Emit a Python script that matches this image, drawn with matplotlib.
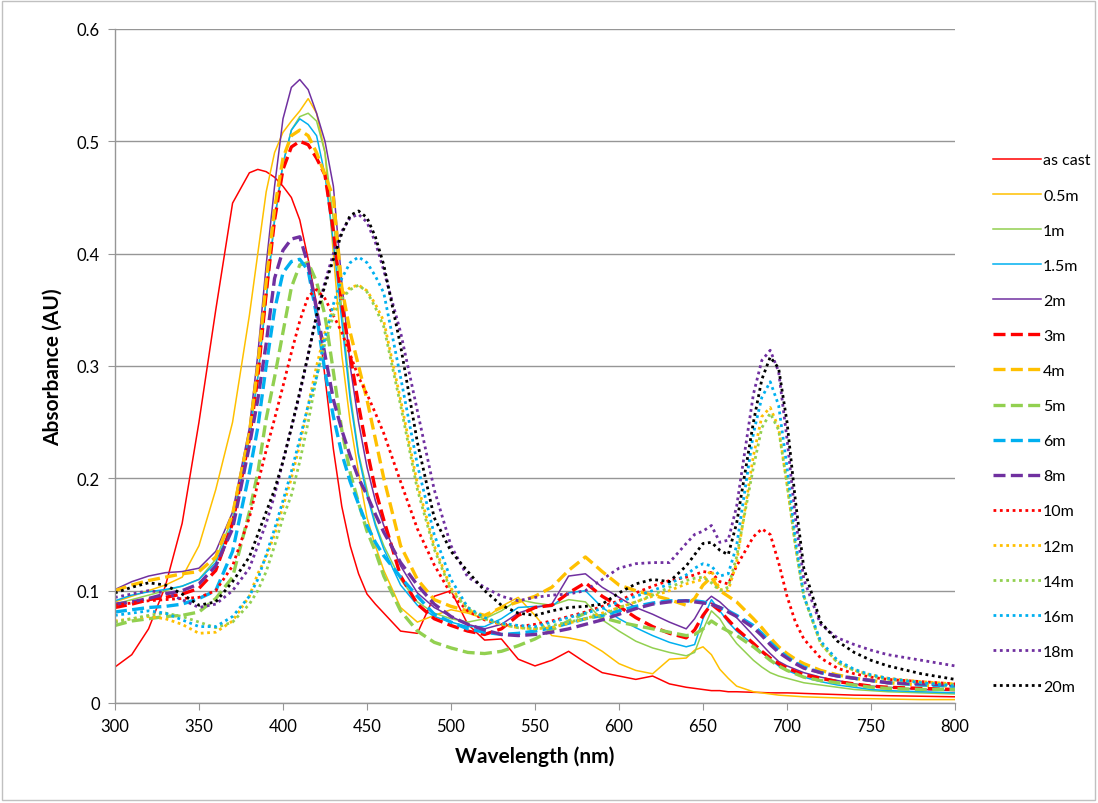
import numpy as np
import matplotlib
matplotlib.use("Agg")
import matplotlib.pyplot as plt
from matplotlib.patches import Rectangle

plt.rcParams['font.family'] = ['Lato', 'DejaVu Sans']

# wavelength grid (nm), finer around the Soret and Q-band peaks
wavelength = [300, 310, 320, 330, 340, 350, 360, 370, 380,
              385, 390, 395, 400, 405, 410, 415, 420, 425, 430, 435, 440, 445, 450, 455, 460,
              470, 480, 490, 500, 510, 520, 530, 540, 550, 560, 570, 580, 590, 600, 610, 620, 630, 640,
              645, 650, 655, 660, 665, 670,
              680, 685, 690, 695, 700, 705, 710,
              720, 730, 740, 750, 760, 780, 800]

as_cast = [0.032, 0.043, 0.066, 0.104, 0.16, 0.25, 0.35, 0.445, 0.472,
           0.475, 0.473, 0.468, 0.46, 0.45, 0.43, 0.395, 0.355, 0.29, 0.226, 0.175, 0.14, 0.115, 0.097, 0.088, 0.08,
           0.064, 0.062, 0.095, 0.10, 0.07, 0.056, 0.057, 0.039, 0.033, 0.038, 0.046, 0.036, 0.027, 0.024, 0.021, 0.024, 0.017, 0.014,
           0.013, 0.012, 0.011, 0.011, 0.010, 0.010,
           0.0095, 0.0093, 0.009, 0.009, 0.009, 0.0088, 0.0085,
           0.008, 0.0075, 0.007, 0.0068, 0.0065, 0.006, 0.0055]
m0_5 = [0.09, 0.095, 0.10, 0.105, 0.112, 0.14, 0.19, 0.25, 0.345,
        0.40, 0.455, 0.49, 0.508, 0.518, 0.527, 0.538, 0.525, 0.49, 0.40, 0.31, 0.25, 0.205, 0.165, 0.14, 0.118,
        0.085, 0.072, 0.078, 0.083, 0.08, 0.075, 0.086, 0.094, 0.078, 0.06, 0.058, 0.055, 0.046, 0.035, 0.029, 0.026, 0.039, 0.040,
        0.047, 0.050, 0.043, 0.03, 0.022, 0.015,
        0.01, 0.009, 0.008, 0.007, 0.0065, 0.006, 0.0055,
        0.005, 0.0045, 0.004, 0.0038, 0.0035, 0.003, 0.003]
m1 = [0.088, 0.092, 0.096, 0.10, 0.104, 0.11, 0.128, 0.165, 0.235,
      0.29, 0.36, 0.43, 0.48, 0.51, 0.522, 0.525, 0.518, 0.49, 0.43, 0.35, 0.275, 0.222, 0.19, 0.16, 0.14,
      0.11, 0.09, 0.08, 0.075, 0.072, 0.075, 0.082, 0.092, 0.089, 0.087, 0.092, 0.09, 0.074, 0.064, 0.055, 0.049, 0.045, 0.042,
      0.045, 0.065, 0.082, 0.075, 0.063, 0.053,
      0.038, 0.032, 0.027, 0.024, 0.022, 0.02, 0.018,
      0.016, 0.014, 0.012, 0.011, 0.01, 0.009, 0.008]
m1_5 = [0.091, 0.096, 0.099, 0.101, 0.104, 0.11, 0.125, 0.16, 0.24,
        0.29, 0.36, 0.43, 0.48, 0.51, 0.52, 0.515, 0.505, 0.47, 0.41, 0.34, 0.27, 0.22, 0.185, 0.158, 0.137,
        0.105, 0.087, 0.077, 0.072, 0.068, 0.068, 0.075, 0.085, 0.086, 0.086, 0.098, 0.10, 0.085, 0.075, 0.067, 0.06, 0.054, 0.05,
        0.052, 0.075, 0.092, 0.082, 0.072, 0.064,
        0.052, 0.045, 0.039, 0.033, 0.029, 0.026, 0.023,
        0.019, 0.016, 0.014, 0.012, 0.011, 0.01, 0.009]
m2 = [0.101, 0.108, 0.113, 0.116, 0.117, 0.12, 0.135, 0.17, 0.245,
      0.31, 0.39, 0.46, 0.52, 0.548, 0.555, 0.546, 0.525, 0.50, 0.46, 0.375, 0.30, 0.25, 0.21, 0.18, 0.158,
      0.122, 0.098, 0.085, 0.077, 0.07, 0.066, 0.07, 0.08, 0.085, 0.088, 0.113, 0.115, 0.103, 0.094, 0.085, 0.079, 0.072, 0.066,
      0.075, 0.088, 0.095, 0.09, 0.083, 0.076,
      0.06, 0.052, 0.044, 0.037, 0.033, 0.03, 0.027,
      0.023, 0.02, 0.017, 0.015, 0.014, 0.012, 0.011]
m3 = [0.085, 0.088, 0.092, 0.094, 0.097, 0.102, 0.118, 0.16, 0.235,
      0.29, 0.365, 0.43, 0.475, 0.495, 0.50, 0.497, 0.485, 0.47, 0.42, 0.355, 0.31, 0.265, 0.225, 0.19, 0.163,
      0.113, 0.088, 0.075, 0.069, 0.064, 0.061, 0.066, 0.078, 0.085, 0.087, 0.098, 0.107, 0.095, 0.086, 0.076, 0.068, 0.062, 0.058,
      0.065, 0.078, 0.088, 0.082, 0.074, 0.066,
      0.053, 0.046, 0.04, 0.035, 0.031, 0.028, 0.025,
      0.022, 0.019, 0.017, 0.015, 0.014, 0.013, 0.012]
m4 = [0.10, 0.105, 0.109, 0.112, 0.115, 0.117, 0.13, 0.168, 0.24,
      0.30, 0.375, 0.44, 0.485, 0.505, 0.51, 0.505, 0.49, 0.47, 0.45, 0.37, 0.33, 0.30, 0.27, 0.235, 0.2,
      0.14, 0.11, 0.092, 0.086, 0.082, 0.078, 0.085, 0.09, 0.095, 0.103, 0.118, 0.13, 0.117, 0.105, 0.10, 0.096, 0.092, 0.087,
      0.093, 0.105, 0.112, 0.10, 0.095, 0.09,
      0.075, 0.067, 0.058, 0.05, 0.044, 0.039, 0.035,
      0.029, 0.025, 0.022, 0.02, 0.018, 0.016, 0.015]
m5 = [0.069, 0.073, 0.075, 0.077, 0.078, 0.081, 0.093, 0.112, 0.17,
      0.205, 0.253, 0.29, 0.33, 0.37, 0.39, 0.392, 0.375, 0.345, 0.295, 0.243, 0.205, 0.178, 0.153, 0.135, 0.113,
      0.082, 0.064, 0.054, 0.049, 0.045, 0.044, 0.046, 0.051, 0.057, 0.065, 0.073, 0.08, 0.076, 0.072, 0.069, 0.066, 0.063, 0.06,
      0.061, 0.066, 0.073, 0.068, 0.064, 0.06,
      0.05, 0.044, 0.038, 0.033, 0.029, 0.026, 0.023,
      0.02, 0.018, 0.016, 0.014, 0.013, 0.012, 0.012]
m6 = [0.081, 0.083, 0.085, 0.086, 0.088, 0.093, 0.1, 0.135, 0.205,
      0.245, 0.30, 0.35, 0.383, 0.393, 0.395, 0.385, 0.345, 0.295, 0.255, 0.222, 0.197, 0.177, 0.158, 0.143, 0.131,
      0.112, 0.095, 0.079, 0.072, 0.066, 0.063, 0.061, 0.062, 0.064, 0.067, 0.071, 0.075, 0.078, 0.082, 0.086, 0.089, 0.091, 0.091,
      0.091, 0.09, 0.088, 0.085, 0.082, 0.078,
      0.069, 0.062, 0.054, 0.047, 0.041, 0.036, 0.032,
      0.027, 0.024, 0.022, 0.02, 0.018, 0.016, 0.015]
m8 = [0.088, 0.09, 0.093, 0.097, 0.1, 0.106, 0.122, 0.155, 0.229,
      0.27, 0.32, 0.378, 0.403, 0.413, 0.415, 0.39, 0.35, 0.31, 0.27, 0.243, 0.22, 0.2, 0.185, 0.168, 0.152,
      0.125, 0.105, 0.088, 0.077, 0.07, 0.065, 0.061, 0.06, 0.061, 0.063, 0.066, 0.07, 0.074, 0.079, 0.084, 0.088, 0.09, 0.091,
      0.09, 0.089, 0.088, 0.085, 0.081, 0.077,
      0.067, 0.06, 0.052, 0.045, 0.04, 0.035, 0.031,
      0.027, 0.024, 0.022, 0.02, 0.018, 0.017, 0.016]
m10 = [0.087, 0.089, 0.091, 0.092, 0.093, 0.094, 0.1, 0.122, 0.165,
       0.195, 0.225, 0.253, 0.282, 0.312, 0.34, 0.362, 0.368, 0.36, 0.345, 0.33, 0.31, 0.29, 0.275, 0.258, 0.24,
       0.197, 0.155, 0.123, 0.097, 0.082, 0.074, 0.07, 0.068, 0.07, 0.073, 0.077, 0.081, 0.086, 0.091, 0.098, 0.104, 0.109, 0.112,
       0.114, 0.117, 0.116, 0.108, 0.106, 0.122,
       0.148, 0.155, 0.15, 0.125, 0.095, 0.072, 0.057,
       0.04, 0.031, 0.026, 0.023, 0.021, 0.019, 0.017]
m12 = [0.073, 0.075, 0.077, 0.075, 0.07, 0.062, 0.063, 0.073, 0.095,
       0.115, 0.13, 0.15, 0.175, 0.2, 0.23, 0.265, 0.30, 0.33, 0.35, 0.362, 0.37, 0.372, 0.367, 0.355, 0.34,
       0.27, 0.195, 0.14, 0.102, 0.085, 0.075, 0.07, 0.067, 0.066, 0.067, 0.071, 0.075, 0.08, 0.085, 0.09, 0.095, 0.1, 0.106,
       0.108, 0.11, 0.118, 0.101, 0.1, 0.125,
       0.22, 0.255, 0.263, 0.245, 0.195, 0.14, 0.095,
       0.053, 0.036, 0.029, 0.025, 0.022, 0.019, 0.017]
m14 = [0.072, 0.075, 0.078, 0.08, 0.077, 0.072, 0.067, 0.072, 0.088,
       0.1, 0.117, 0.14, 0.165, 0.185, 0.215, 0.25, 0.29, 0.32, 0.345, 0.36, 0.368, 0.372, 0.366, 0.352, 0.335,
       0.265, 0.19, 0.137, 0.1, 0.084, 0.075, 0.07, 0.067, 0.066, 0.069, 0.072, 0.075, 0.078, 0.085, 0.09, 0.096, 0.103, 0.109,
       0.111, 0.112, 0.107, 0.1, 0.103, 0.13,
       0.21, 0.245, 0.258, 0.243, 0.195, 0.14, 0.095,
       0.053, 0.036, 0.029, 0.024, 0.021, 0.018, 0.016]
m16 = [0.078, 0.08, 0.082, 0.08, 0.074, 0.068, 0.068, 0.077, 0.095,
       0.11, 0.132, 0.155, 0.18, 0.206, 0.235, 0.265, 0.29, 0.325, 0.355, 0.378, 0.392, 0.397, 0.392, 0.38, 0.365,
       0.29, 0.212, 0.15, 0.11, 0.085, 0.076, 0.071, 0.069, 0.068, 0.072, 0.076, 0.08, 0.084, 0.09, 0.095, 0.10, 0.106, 0.114,
       0.12, 0.124, 0.122, 0.113, 0.115, 0.14,
       0.24, 0.272, 0.286, 0.265, 0.21, 0.145, 0.095,
       0.055, 0.038, 0.03, 0.025, 0.022, 0.018, 0.015]
m18 = [0.094, 0.097, 0.1, 0.098, 0.092, 0.085, 0.088, 0.1, 0.12,
       0.14, 0.16, 0.185, 0.215, 0.245, 0.275, 0.31, 0.345, 0.375, 0.40, 0.42, 0.432, 0.435, 0.428, 0.41, 0.385,
       0.33, 0.26, 0.19, 0.14, 0.112, 0.103, 0.095, 0.091, 0.094, 0.096, 0.097, 0.1, 0.11, 0.12, 0.124, 0.125, 0.125, 0.142,
       0.15, 0.153, 0.158, 0.143, 0.145, 0.175,
       0.275, 0.305, 0.314, 0.295, 0.235, 0.165, 0.11,
       0.07, 0.058, 0.052, 0.047, 0.043, 0.038, 0.033]
m20 = [0.098, 0.103, 0.107, 0.105, 0.097, 0.087, 0.09, 0.108, 0.13,
       0.15, 0.17, 0.19, 0.215, 0.245, 0.277, 0.31, 0.345, 0.372, 0.395, 0.418, 0.434, 0.438, 0.432, 0.415, 0.39,
       0.318, 0.232, 0.165, 0.135, 0.117, 0.1, 0.087, 0.08, 0.078, 0.082, 0.085, 0.086, 0.088, 0.098, 0.106, 0.11, 0.108, 0.122,
       0.132, 0.142, 0.143, 0.136, 0.132, 0.16,
       0.25, 0.288, 0.308, 0.298, 0.25, 0.18, 0.12,
       0.072, 0.055, 0.045, 0.038, 0.033, 0.026, 0.021]

labels = ['as cast', '0.5m', '1m', '1.5m', '2m', '3m', '4m', '5m', '6m', '8m',
          '10m', '12m', '14m', '16m', '18m', '20m']
series = [as_cast, m0_5, m1, m1_5, m2, m3, m4, m5, m6, m8,
          m10, m12, m14, m16, m18, m20]

red, gold, green, blue, purple, black = '#FF0000', '#FFC000', '#92D050', '#00B0F0', '#7030A0', '#000000'
colors = [red, gold, green, blue, purple,
          red, gold, green, blue, purple,
          red, gold, green, blue, purple, black]

solid = dict(linestyle='-', linewidth=1.1)
dashed = dict(linestyle=(0, (3.6, 1.6)), linewidth=2.4)
dotted = dict(linestyle=(0, (1, 1.3)), linewidth=2.0)
styles = [solid] * 5 + [dashed] * 5 + [dotted] * 6

fig = plt.figure(figsize=(10.98, 8.04), dpi=100)
ax = fig.add_axes([0.1047, 0.1244, 0.7651, 0.8383])

for vals, lab, col, st in zip(series, labels, colors, styles):
    ax.plot(wavelength, vals, color=col, label=lab, **st)

ax.set_xlim(300, 800)
ax.set_ylim(0, 0.6)
ax.set_xticks(np.arange(300, 801, 50))
ax.set_yticks(np.arange(0, 0.61, 0.1))
ax.set_yticklabels(['0', '0.1', '0.2', '0.3', '0.4', '0.5', '0.6'])
ax.yaxis.grid(True, color='#969696', linewidth=1.0)
ax.set_axisbelow(True)
for side in ['top', 'right']:
    ax.spines[side].set_visible(False)
for side in ['left', 'bottom']:
    ax.spines[side].set_color('#969696')
    ax.spines[side].set_linewidth(1.0)
ax.tick_params(axis='x', direction='out', length=5, color='#969696', labelsize=12, pad=6)
ax.tick_params(axis='y', direction='out', length=5, color='#969696', labelsize=12, pad=6)

ax.set_xlabel('Wavelength (nm)', fontsize=15, fontweight='bold', labelpad=8)
ax.set_ylabel('Absorbance (AU)', fontsize=15, fontweight='bold', labelpad=10)

fig.legend(loc='upper left', bbox_to_anchor=(0.891, 0.826), frameon=False,
           fontsize=11.5, handlelength=3.0, handletextpad=0.15, labelspacing=1.31)

# thin outline round the whole chart area
fig.patches.append(Rectangle((0.002, 0.004), 0.995, 0.993, transform=fig.transFigure,
                             fill=False, edgecolor='#c0c0c0', linewidth=1.0))

fig.savefig('out.png', dpi=100)
